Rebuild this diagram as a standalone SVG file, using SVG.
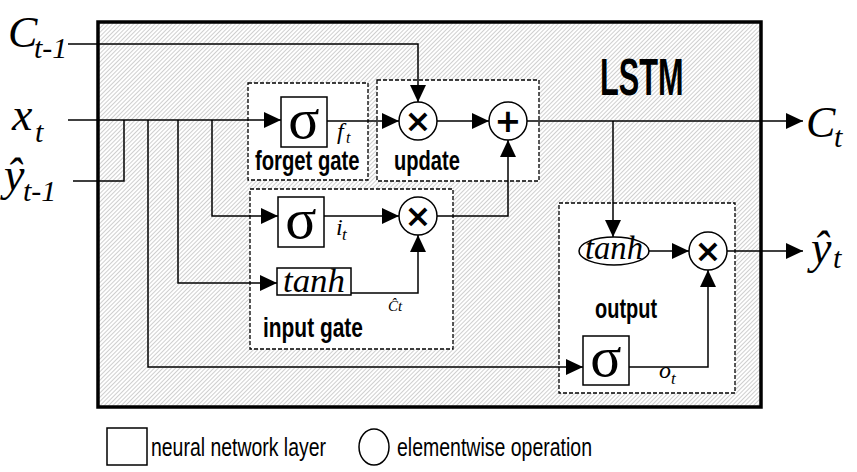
<svg xmlns="http://www.w3.org/2000/svg" width="857" height="472" viewBox="0 0 857 472">
<style>
.bg{fill:#fff}
.dash{fill:#fff;stroke:#000;stroke-width:1.3;stroke-dasharray:4 2}
.nn{fill:#fff;stroke:#000;stroke-width:1.5}
.op{fill:#fff;stroke:#000;stroke-width:1.5}
.cn{fill:none;stroke:#000;stroke-width:1.5}
.arr{marker-end:url(#ah)}
.sig{font-family:"Liberation Serif","Times New Roman",serif;font-size:58px;text-anchor:middle}
.it{font-family:"Liberation Serif","Times New Roman",serif;font-style:italic}
.sym{font-family:"DejaVu Sans",sans-serif;font-weight:bold;font-size:32px;text-anchor:middle}
.gl{font-family:"Liberation Sans",Arial,sans-serif;font-weight:bold;font-size:27px}
.big{font-family:"Liberation Sans",Arial,sans-serif;font-weight:bold;font-size:52px}
.lg{font-family:"Liberation Sans",Arial,sans-serif;font-size:26px}
</style>
<defs>
<pattern id="hatch" patternUnits="userSpaceOnUse" width="3" height="3" patternTransform="rotate(45)">
<rect width="3" height="3" fill="#fff"/>
<line x1="0" y1="0" x2="0" y2="3" stroke="#a0a0a0" stroke-width="1"/>
</pattern>
<marker id="ah" markerUnits="userSpaceOnUse" markerWidth="17" markerHeight="16" refX="17" refY="8" orient="auto">
<path d="M0,0 L17,8 L0,16 z" fill="#000"/>
</marker>
</defs>
<rect class="bg" width="857" height="472"/>
<g id="lstm-cell">
<rect x="98" y="22" width="663" height="385" fill="url(#hatch)" stroke="#000" stroke-width="3.5"/>
<text class="big" transform="translate(600,95) scale(0.59,1)">LSTM</text>
</g>
<g id="forget-gate">
<rect class="dash" x="248" y="83" width="120" height="97"/>
<rect class="nn" x="281" y="97" width="46" height="50"/>
<text class="sig" x="304" y="138">σ</text>
<text class="gl" transform="translate(255,170) scale(0.75,1)">forget gate</text>
</g>
<g id="update">
<rect class="dash" x="377" y="80" width="162" height="101"/>
<circle class="op" cx="418" cy="121" r="19"/>
<text class="sym" x="418" y="132">×</text>
<circle class="op" cx="508" cy="121" r="19"/>
<text class="sym" x="508" y="132">+</text>
<text class="gl" transform="translate(394,170) scale(0.745,1)">update</text>
</g>
<g id="input-gate">
<rect class="dash" x="250" y="189" width="203" height="160"/>
<rect class="nn" x="278" y="197" width="46" height="50"/>
<text class="sig" x="301" y="238">σ</text>
<circle class="op" cx="418" cy="216" r="19"/>
<text class="sym" x="418" y="227">×</text>
<rect class="nn" x="277" y="268" width="74" height="27"/>
<text class="it" x="283" y="292" font-size="34" textLength="62" lengthAdjust="spacingAndGlyphs">tanh</text>
<text class="gl" transform="translate(263,337) scale(0.775,1)">input gate</text>
</g>
<g id="output-gate">
<rect class="dash" x="559" y="203" width="176" height="190"/>
<ellipse class="op" cx="614" cy="251" rx="35" ry="14"/>
<text class="it" x="585" y="259" font-size="34" textLength="58" lengthAdjust="spacingAndGlyphs">tanh</text>
<circle class="op" cx="708" cy="251" r="19"/>
<text class="sym" x="708" y="262">×</text>
<rect class="nn" x="583" y="336" width="46" height="49"/>
<text class="sig" x="606" y="376">σ</text>
<text class="gl" transform="translate(595,318) scale(0.74,1)">output</text>
</g>
<g id="connectors">
<path class="cn arr" d="M68,44 H418 V102"/>
<path class="cn arr" d="M68,120 H281"/>
<path class="cn" d="M73,181 H124 V120"/>
<path class="cn arr" d="M212,120 V216 H278"/>
<path class="cn arr" d="M178,120 V283 H277"/>
<path class="cn arr" d="M148,120 V367 H583"/>
<path class="cn arr" d="M327,121 H399"/>
<path class="cn arr" d="M437,121 H489"/>
<path class="cn arr" d="M527,121 H803"/>
<path class="cn arr" d="M613,121 V237"/>
<path class="cn arr" d="M324,216 H399"/>
<path class="cn arr" d="M351,293 H418 V235"/>
<path class="cn arr" d="M437,216 H508 V140"/>
<path class="cn arr" d="M649,251 H689"/>
<path class="cn arr" d="M727,251 H803"/>
<path class="cn arr" d="M629,367 H708 V270"/>
</g>
<g id="labels">
<text class="it" x="8" y="47" font-size="44">C</text>
<text class="it" x="34" y="58" font-size="30">t-1</text>
<text class="it" x="12" y="130" font-size="46">x</text>
<text class="it" x="35" y="142" font-size="30">t</text>
<text class="it" x="4" y="190" font-size="46">ŷ</text>
<text class="it" x="23" y="201" font-size="30">t-1</text>
<text class="it" x="806" y="137" font-size="44">C</text>
<text class="it" x="834" y="147" font-size="30">t</text>
<text class="it" x="811" y="263" font-size="46">ŷ</text>
<text class="it" x="833" y="268" font-size="30">t</text>
<text class="it" x="337" y="139" font-size="24">f</text>
<text class="it" x="346" y="143" font-size="16">t</text>
<text class="it" x="336" y="235" font-size="24">i</text>
<text class="it" x="342" y="240" font-size="17">t</text>
<text class="it" x="388" y="311" font-size="15">Ĉt</text>
<text class="it" x="659" y="378" font-size="24">o</text>
<text class="it" x="671" y="384" font-size="17">t</text>
</g>
<g id="legend">
<rect x="107" y="428" width="40" height="37" fill="#fff" stroke="#000" stroke-width="1.5"/>
<text class="lg" transform="translate(151,456) scale(0.748,1)">neural network layer</text>
<ellipse cx="374" cy="447" rx="15" ry="18" fill="#fff" stroke="#000" stroke-width="1.5"/>
<text class="lg" transform="translate(397,456) scale(0.75,1)">elementwise operation</text>
</g>
</svg>
